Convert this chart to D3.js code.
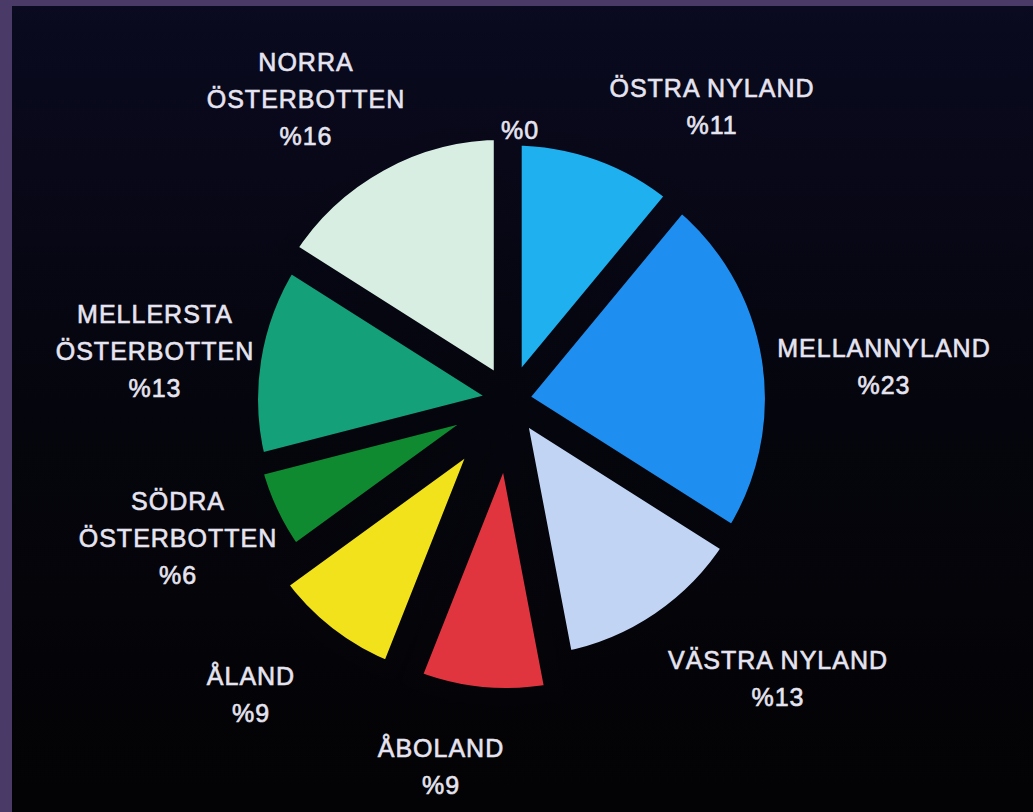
<!DOCTYPE html>
<html>
<head>
<meta charset="utf-8">
<script src="https://cdn.jsdelivr.net/npm/d3@7"></script>
<style>
  html, body { margin: 0; padding: 0; background: #4a3a68; }
  svg { display: block; }
</style>
</head>
<body>
<div id="chart"></div>
<script>
// data (clockwise from 12 o'clock)
const regions = ['ÖSTRA NYLAND', 'MELLANNYLAND', 'VÄSTRA NYLAND', 'ÅBOLAND', 'ÅLAND',
  'SÖDRA ÖSTERBOTTEN', 'MELLERSTA ÖSTERBOTTEN', 'NORRA ÖSTERBOTTEN', ''];
const labelLines = [['ÖSTRA NYLAND'], ['MELLANNYLAND'], ['VÄSTRA NYLAND'], ['ÅBOLAND'], ['ÅLAND'],
  ['SÖDRA', 'ÖSTERBOTTEN'], ['MELLERSTA', 'ÖSTERBOTTEN'], ['NORRA', 'ÖSTERBOTTEN'], []];
const shares = [11, 23, 13, 9, 9, 6, 13, 16, 0];

const colors = ['#1fb0f0', '#1e8ff0', '#c2d4f4', '#e0343f', '#f2e21c', '#0f8a30', '#14a079', '#d9eee2', '#000'];

// layout: how far each slice is pulled out, and where its label block sits
const explode = [8, 8, 11, 41, 42, 10, 5, 15, 0];
const labelAt = [[712, 97], [884, 357], [778, 669], [441, 757], [251, 685],
  [178, 510], [155, 323], [306, 71], [520, 139]];

const W = 1033, H = 812;
const cx = 510, cy = 400, R = 256, lineH = 37;

const svg = d3.select('#chart').append('svg')
  .attr('width', W)
  .attr('height', H);

const defs = svg.append('defs');
// dy: the gap strokes live in a coordinate system shifted to the pie centre
function bgGradient(id, dy) {
  const g = defs.append('linearGradient')
    .attr('id', id)
    .attr('gradientUnits', 'userSpaceOnUse')
    .attr('x1', 0).attr('y1', 6 - dy).attr('x2', 0).attr('y2', H - dy);
  g.append('stop').attr('offset', '0%').attr('stop-color', '#0a0a20');
  g.append('stop').attr('offset', '50%').attr('stop-color', '#05050d');
  g.append('stop').attr('offset', '100%').attr('stop-color', '#030305');
}
bgGradient('bg', 0);
bgGradient('gapPaint', cy);

svg.append('rect').attr('width', W).attr('height', H).attr('fill', '#4a3a68');
svg.append('rect')
  .attr('x', 12).attr('y', 6)
  .attr('width', W - 12).attr('height', H - 6)
  .attr('fill', 'url(#bg)');

const data = regions.map((r, i) => ({ region: r, value: shares[i], i }));

const pie = d3.pie()
  .value(d => d.value)
  .sort(null)
  .startAngle(0)
  .endAngle(2 * Math.PI);

const arc = d3.arc().innerRadius(0).outerRadius(R);
const arcs = pie(data).filter(d => d.data.value > 0);

function shift(d) {
  const mid = (d.startAngle + d.endAngle) / 2;
  const e = explode[d.data.i];
  return `translate(${cx + e * Math.sin(mid)},${cy - e * Math.cos(mid)})`;
}

const plot = svg.append('g').attr('class', 'plot');

plot.selectAll('path.slice')
  .data(arcs)
  .enter()
  .append('path')
  .attr('class', 'slice')
  .attr('transform', shift)
  .attr('d', arc)
  .attr('fill', d => colors[d.data.i]);

// gaps between slices, painted in the background colour
plot.selectAll('path.gap')
  .data(arcs)
  .enter()
  .append('path')
  .attr('class', 'gap')
  .attr('transform', shift)
  .attr('d', arc)
  .attr('fill', 'none')
  .attr('stroke', 'url(#gapPaint)')
  .attr('stroke-width', 18)
  .attr('stroke-linejoin', 'round');

// labels
const labels = svg.append('g').attr('class', 'labels')
  .attr('font-family', '"Liberation Sans", Arial, sans-serif')
  .attr('font-size', 25)
  .attr('letter-spacing', 1)
  .attr('fill', '#e6e4f0')
  .attr('stroke', '#e6e4f0')
  .attr('stroke-width', 0.6)
  .attr('text-anchor', 'middle');

data.forEach(d => {
  const lines = labelLines[d.i].concat(['%' + d.value]);
  const [lx, ly] = labelAt[d.i];
  const t = labels.append('text').attr('x', lx).attr('y', ly);
  lines.forEach((s, k) => {
    t.append('tspan')
      .attr('x', lx)
      .attr('y', ly + k * lineH)
      .text(s);
  });
});
</script>
</body>
</html>
